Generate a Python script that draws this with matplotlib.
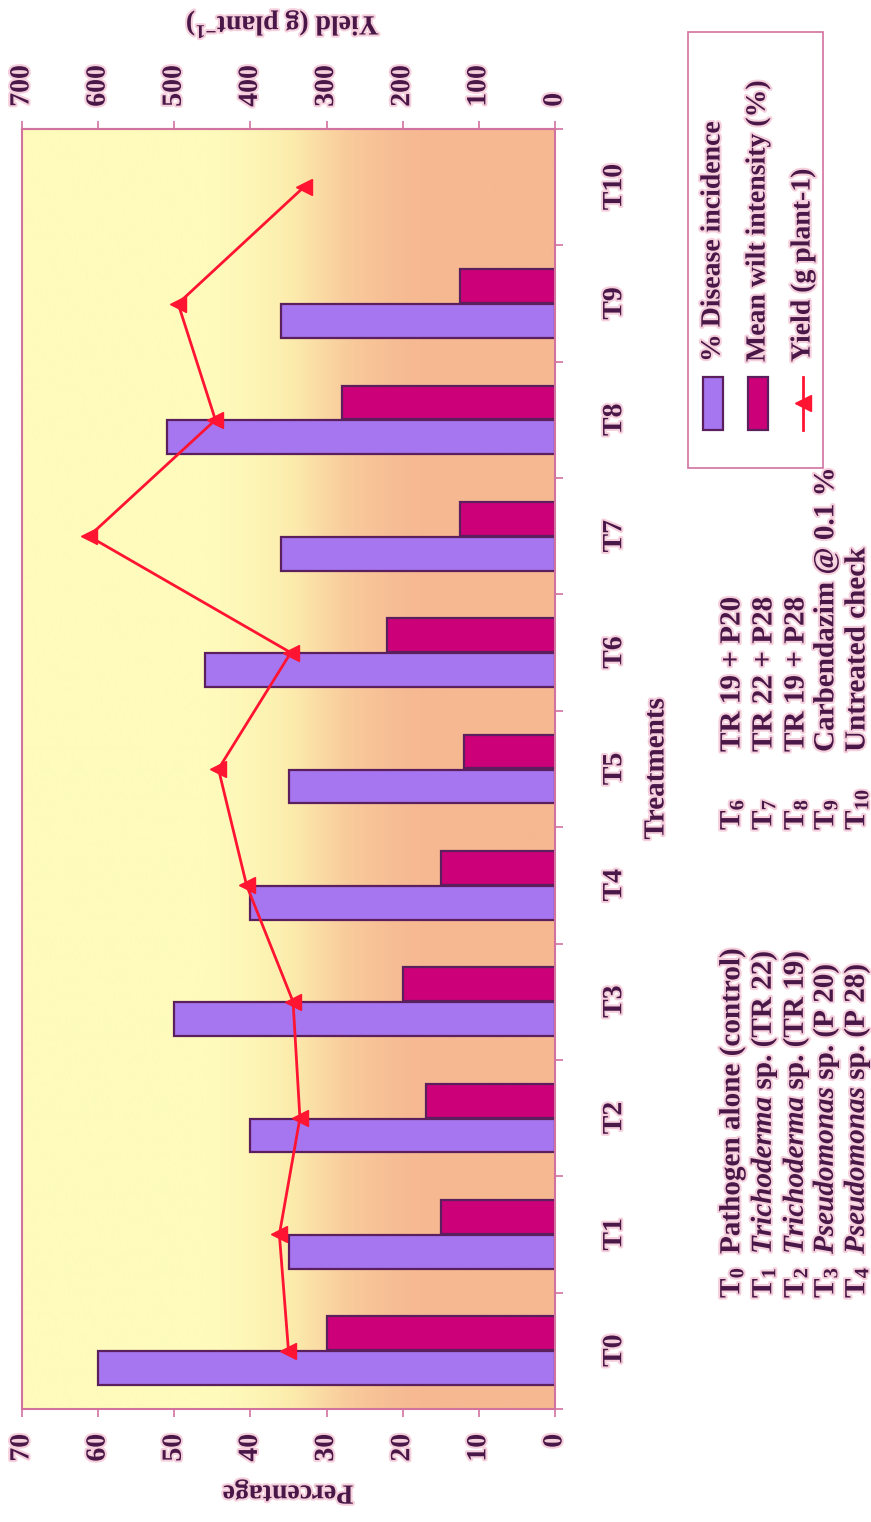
import numpy as np
import matplotlib
matplotlib.use('Agg')
import matplotlib.pyplot as plt
import matplotlib.patheffects as pe
from matplotlib.patches import Rectangle
from matplotlib.lines import Line2D
from matplotlib.colors import LinearSegmentedColormap

# treatments and measured values
treatments = ['T0', 'T1', 'T2', 'T3', 'T4', 'T5', 'T6', 'T7', 'T8', 'T9', 'T10']
disease_incidence = [60, 35, 40, 50, 40, 35, 46, 36, 51, 36]
wilt_intensity = [30, 15, 17, 20, 15, 12, 22, 12.5, 28, 12.5]
yield_g = [350, 362, 335, 344, 405, 442, 347, 612, 446, 495, 330]

pct_ticks = [0, 10, 20, 30, 40, 50, 60, 70]
yield_ticks = [0, 100, 200, 300, 400, 500, 600, 700]

series_names = ['% Disease incidence', 'Mean wilt intensity (%)', 'Yield (g plant-1)']

key_codes_a = ['T$_0$', 'T$_1$', 'T$_2$', 'T$_3$', 'T$_4$']
key_names_a = ['Pathogen alone (control)',
               r'$\mathit{Trichoderma}$ sp. (TR 22)',
               r'$\mathit{Trichoderma}$ sp. (TR 19)',
               r'$\mathit{Pseudomonas}$ sp. (P 20)',
               r'$\mathit{Pseudomonas}$ sp. (P 28)']
key_codes_b = ['T$_6$', 'T$_7$', 'T$_8$', 'T$_9$', 'T$_{10}$']
key_names_b = ['TR 19 + P20', 'TR 22 + P28', 'TR 19 + P28',
               'Carbendazim @ 0.1 %', 'Untreated check']

plt.rcParams['font.family'] = ['Liberation Serif', 'DejaVu Serif']
plt.rcParams['font.weight'] = 'bold'
plt.rcParams['mathtext.fontset'] = 'custom'
plt.rcParams['mathtext.rm'] = 'Liberation Serif:bold'
plt.rcParams['mathtext.bf'] = 'Liberation Serif:bold'
plt.rcParams['mathtext.it'] = 'Liberation Serif:italic:bold'

TXT = '#4a1848'
PINK = '#d2729f'
PURPLE = '#a576f0'
MAGENTA = '#cc0078'
EDGE = '#5a1f5c'
RED = '#ff1432'
halo = [pe.withStroke(linewidth=3, foreground='#f6cfdc')]

W, H = 871, 1522
fig = plt.figure(figsize=(W / 100, H / 100), dpi=100)
fig.patch.set_facecolor('white')


def fx(px):
    return px / W


def fy(py):
    return 1 - py / H


# plot area, drawn sideways: treatments run up the page, values grow to the left
ax = fig.add_axes([fx(22), fy(1409), fx(555) - fx(22), fy(129) - fy(1409)])
ax.set_xlim(70, 0)
ax.set_ylim(-0.5, 10.5)

# yellow -> peach background
cmap = LinearSegmentedColormap.from_list('bg', ['#fefbbc', '#fcecac', '#f9cc9c', '#f6b891'])
t = np.linspace(0, 1, 400)
t = np.clip((t - 0.33) / 0.45, 0, 1)
t = t * t * (3 - 2 * t)
ax.imshow(t[None, :], extent=[70, 0, -0.5, 10.5], aspect='auto', cmap=cmap,
          interpolation='bilinear', zorder=0)

idx = np.arange(len(disease_incidence))
bh = 0.29
ax.barh(idx - 0.15, disease_incidence, height=bh, color=PURPLE, edgecolor=EDGE,
        linewidth=1.6, zorder=2)
ax.barh(idx + 0.15, wilt_intensity, height=bh, color=MAGENTA, edgecolor=EDGE,
        linewidth=1.6, zorder=2)

# percentage axis along the bottom
ax.set_xticks(pct_ticks)
ax.set_xticklabels([str(v) for v in pct_ticks])
ax.tick_params(axis='x', direction='out', length=6, width=1.2, color=PINK,
               labelsize=20, labelcolor=TXT, labelrotation=90, pad=12)

# treatment axis on the right: ticks between categories, labels at centres
ax.yaxis.tick_right()
ax.set_yticks(np.arange(-0.5, 11, 1.0))
ax.set_yticklabels([])
ax.set_yticks(np.arange(len(treatments)), minor=True)
ax.set_yticklabels(treatments, minor=True)
ax.tick_params(axis='y', which='major', direction='out', length=6, width=1.2, color=PINK)
ax.tick_params(axis='y', which='minor', length=0, labelsize=20, labelcolor=TXT, pad=34)
for lab in ax.get_yticklabels(minor=True):
    lab.set_rotation(90)
    lab.set_va('center')
    lab.set_path_effects(halo)
for lab in ax.get_xticklabels():
    lab.set_path_effects(halo)

for s in ax.spines.values():
    s.set_color(PINK)
    s.set_linewidth(1.5)

# yield axis along the top
ax2 = ax.twiny()
ax2.set_xlim(700, 0)
ax2.plot(yield_g, np.arange(len(yield_g)), color=RED, linewidth=2, marker='<',
         markersize=11, zorder=4)
ax2.set_xticks(yield_ticks)
ax2.set_xticklabels([str(v) for v in yield_ticks])
ax2.tick_params(axis='x', direction='out', length=6, width=1.2, color=PINK,
                labelsize=20, labelcolor=TXT, labelrotation=90, pad=10)
for lab in ax2.get_xticklabels():
    lab.set_path_effects(halo)
for name, s in ax2.spines.items():
    s.set_visible(name == 'top')
    s.set_color(PINK)
    s.set_linewidth(1.5)

# axis titles
fig.text(fx(288), fy(1492), 'Percentage', rotation=180, ha='center', va='center',
         fontsize=20, color=TXT, path_effects=halo)
fig.text(fx(282), fy(24), 'Yield (g plant$^{-1}$)', rotation=180, ha='center',
         va='center', fontsize=20, color=TXT, path_effects=halo)
fig.text(fx(656), fy(769), 'Treatments', rotation=90, ha='center', va='center',
         fontsize=21, color=TXT, path_effects=halo)


def up_text(x, y, s, size=21):
    fig.text(fx(x), fy(y), s, rotation=90, rotation_mode='anchor', ha='left',
             va='center', fontsize=size, color=TXT, path_effects=halo)


# legend box
fig.patches.append(Rectangle((fx(688), fy(468)), fx(823) - fx(688), fy(32) - fy(468),
                             transform=fig.transFigure, facecolor='white',
                             edgecolor=PINK, linewidth=1.2))
for x0, c in [(703, PURPLE), (748, MAGENTA)]:
    fig.patches.append(Rectangle((fx(x0), fy(430)), fx(20), fy(377) - fy(430),
                                 transform=fig.transFigure, facecolor=c,
                                 edgecolor=EDGE, linewidth=1.6))
fig.lines.append(Line2D([fx(803), fx(803)], [fy(430), fy(377)], transform=fig.transFigure,
                        color=RED, linewidth=2))
fig.lines.append(Line2D([fx(803)], [fy(403)], transform=fig.transFigure, color=RED,
                        marker='<', markersize=11, linestyle='none'))
for x0, s in zip([713, 758, 803], series_names):
    up_text(x0, 362, s, size=20)

# treatment key
key_x = [732, 764, 796, 826, 857]
for x0, code, name in zip(key_x, key_codes_a, key_names_a):
    up_text(x0, 1298, code)
    up_text(x0, 1254, name)
for x0, code, name in zip(key_x, key_codes_b, key_names_b):
    up_text(x0, 830, code)
    up_text(x0, 752, name)

fig.savefig('out.png', dpi=100, facecolor='white')
